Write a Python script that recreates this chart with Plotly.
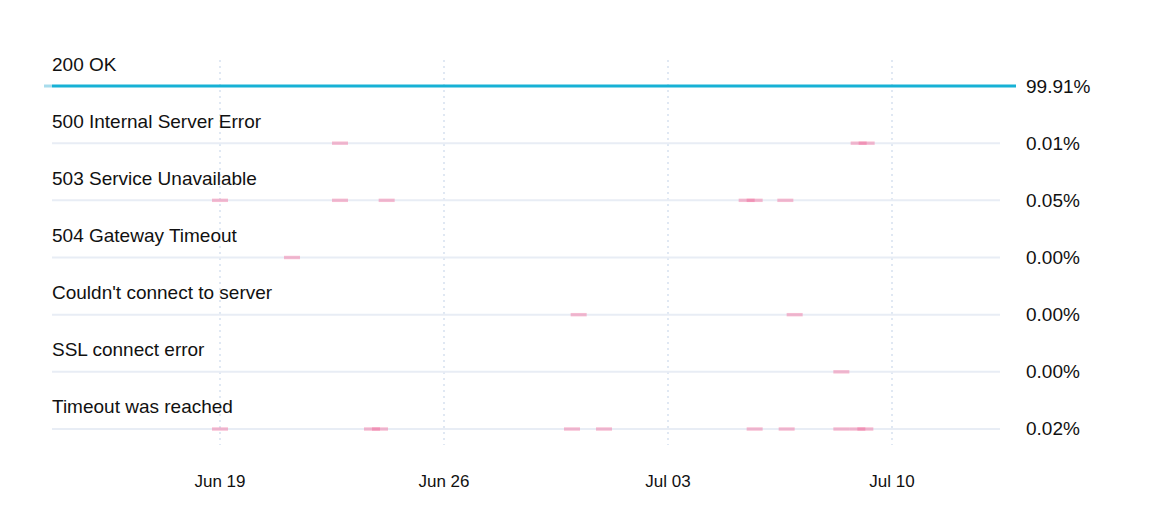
import plotly.graph_objects as go
import pandas as pd

# ---- data ----
rows = ["200 OK", "500 Internal Server Error", "503 Service Unavailable",
        "504 Gateway Timeout", "Couldn't connect to server", "SSL connect error",
        "Timeout was reached"]
percents = ["99.91%", "0.01%", "0.05%", "0.00%", "0.00%", "0.00%", "0.02%"]

err500 = ["2023-06-22 18:00", "2023-07-08 23:00", "2023-07-09 05:00"]
err503 = ["2023-06-19 00:00", "2023-06-22 18:00", "2023-06-24 05:00",
          "2023-07-05 11:00", "2023-07-05 17:00", "2023-07-06 16:00"]
err504 = ["2023-06-21 06:00"]
couldnt = ["2023-06-30 05:00", "2023-07-06 23:00"]
ssl_err = ["2023-07-08 10:00"]
timeout = ["2023-06-19 00:00", "2023-06-23 18:00", "2023-06-24 00:00",
           "2023-06-30 00:00", "2023-07-01 00:00", "2023-07-05 17:00",
           "2023-07-06 17:00", "2023-07-08 10:00", "2023-07-08 22:00",
           "2023-07-09 04:00"]
events = [None, err500, err503, err504, couldnt, ssl_err, timeout]

tick_vals = ["2023-06-19", "2023-06-26", "2023-07-03", "2023-07-10"]
tick_text = ["Jun 19", "Jun 26", "Jul 03", "Jul 10"]

range_start = pd.Timestamp("2023-06-13 12:00")
range_end = pd.Timestamp("2023-07-13 21:00")
line_start = pd.Timestamp("2023-06-13 18:00")
line_end = pd.Timestamp("2023-07-13 09:00")
bin_half = pd.Timedelta(hours=6)

FONT = "Liberation Sans, Arial, Helvetica, sans-serif"
TEXT = "#111111"

fig = go.Figure()

# baselines (as thin bars so that event bars sit on top)
n = len(rows)
span_ms = (line_end - line_start).total_seconds() * 1000
fig.add_trace(go.Bar(orientation="h", base=[line_start] * (n - 1),
                     x=[span_ms] * (n - 1), y=list(range(1, n)), width=0.036,
                     marker=dict(color="#e8edf5", line=dict(width=0)),
                     hoverinfo="skip"))

# event segments
for i, ev in enumerate(events):
    if not ev:
        continue
    centers = pd.to_datetime(ev)
    fig.add_trace(go.Bar(
        orientation="h",
        base=[c - bin_half for c in centers],
        x=[2 * bin_half.total_seconds() * 1000] * len(centers),
        y=[i] * len(centers),
        width=0.06,
        marker=dict(color="rgba(240,100,150,0.42)", line=dict(width=0)),
        hoverinfo="skip"))

# 200 OK line
fig.add_trace(go.Scatter(x=[range_start, line_start], y=[0, 0], mode="lines",
                         line=dict(color="#a8dcec", width=3), hoverinfo="skip"))
fig.add_trace(go.Scatter(x=[line_start, range_end], y=[0, 0], mode="lines",
                         line=dict(color="#17b1d5", width=3), hoverinfo="skip"))

# row labels & percent labels
for i, (name, pct) in enumerate(zip(rows, percents)):
    fig.add_annotation(x=line_start, y=i, text=name, showarrow=False,
                       xanchor="left", yanchor="middle", yshift=22, xshift=-2,
                       font=dict(family=FONT, size=19, color=TEXT))
    fig.add_annotation(xref="paper", x=1.0103, y=i, text=pct, showarrow=False,
                       xanchor="left", yanchor="middle", xshift=-2,
                       font=dict(family=FONT, size=19, color=TEXT))

fig.update_layout(
    width=1152, height=524,
    margin=dict(l=36, r=144, t=52, b=87),
    plot_bgcolor="white", paper_bgcolor="white",
    showlegend=False, barmode="overlay",
    font=dict(family=FONT, color=TEXT),
)
fig.update_xaxes(type="date", range=[range_start, range_end],
                 tickvals=tick_vals, ticktext=tick_text,
                 showgrid=True, gridcolor="#e0e8f3", gridwidth=2, griddash="2px,4px",
                 zeroline=False, showline=False,
                 ticks="outside", ticklen=21, tickcolor="rgba(0,0,0,0)",
                 tickfont=dict(family=FONT, size=17, color=TEXT))
fig.update_yaxes(range=[6.28, -0.455], showgrid=False, zeroline=False,
                 showticklabels=False, showline=False)

fig.write_html("out.html")
